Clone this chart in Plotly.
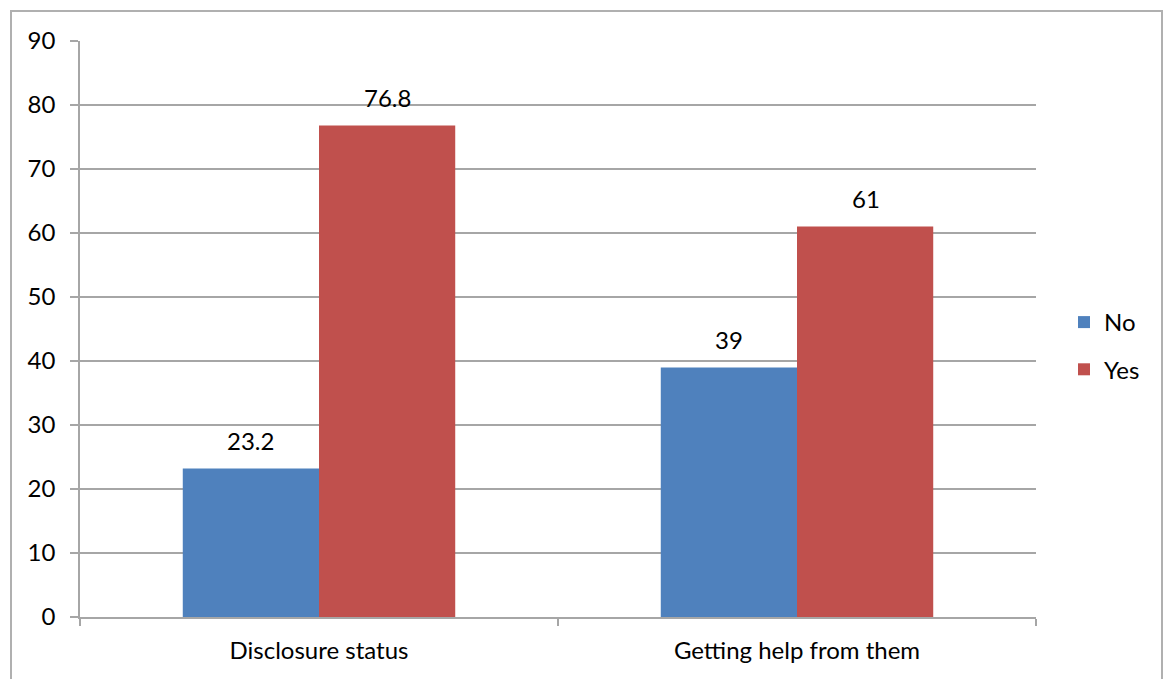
import plotly.graph_objects as go

categories = ["Disclosure status", "Getting help from them"]
series_names = ["No", "Yes"]
no_values = [23.2, 39]
yes_values = [76.8, 61]
y_ticks = [0, 10, 20, 30, 40, 50, 60, 70, 80, 90]

colors = {"No": "#4F81BD", "Yes": "#C0504D"}
FONT = "Lato, Open Sans, sans-serif"
FS = 24
GRID = "#A6A6A6"

fig = go.Figure()
for name, vals in zip(series_names, [no_values, yes_values]):
    fig.add_trace(go.Bar(
        x=categories, y=vals, name=name,
        marker=dict(color=colors[name], line=dict(width=0)),
        legendgroup=name,
    ))

# data labels
for name, vals, shift in zip(series_names, [no_values, yes_values], [-68.5, 68.5]):
    for c, v in zip(categories, vals):
        fig.add_annotation(x=c, y=v, text=f"{v:g}", showarrow=False,
                           xshift=shift, yshift=28, yanchor="middle",
                           font=dict(family=FONT, size=FS, color="black"))

L, R, T, B = 80, 1036, 41, 617
W, H = 1168, 679
pw, ph = R - L, B - T

def px(x):
    return (x - L) / pw

def py(y):
    return (B - y) / ph

fig.add_shape(type="rect", xref="paper", yref="paper",
              x0=px(11), x1=px(1162), y0=py(700), y1=py(11),
              line=dict(color="#B0B0B0", width=2), fillcolor="rgba(0,0,0,0)",
              layer="below")

fig.update_layout(
    width=W, height=H,
    margin=dict(l=L, r=W - R, t=T, b=H - B),
    paper_bgcolor="white", plot_bgcolor="white",
    barmode="group", bargap=0.43, bargroupgap=0,
    font=dict(family=FONT, size=FS, color="black"),
    showlegend=True,
    legend=dict(x=px(1064), y=py(346), xanchor="left", yanchor="middle",
                font=dict(family=FONT, size=FS, color="black"),
                tracegroupgap=13, traceorder="grouped",
                itemwidth=30, bgcolor="rgba(0,0,0,0)"),
    xaxis=dict(type="category", showline=True, linecolor=GRID, linewidth=1.5,
               ticks="outside", tickson="boundaries", ticklen=7, tickcolor=GRID,
               tickwidth=1.5, showgrid=False, ticklabelstandoff=11,
               tickfont=dict(family=FONT, size=FS, color="black")),
    yaxis=dict(range=[0, 90], tickvals=y_ticks, showline=True, linecolor=GRID,
               linewidth=1.5, ticks="outside", ticklen=8, tickcolor=GRID,
               tickwidth=1.5, showgrid=True, gridcolor=GRID, gridwidth=1.5,
               zeroline=False, ticklabelstandoff=10,
               tickfont=dict(family=FONT, size=FS, color="black")),
)

fig.write_html("out.html")
